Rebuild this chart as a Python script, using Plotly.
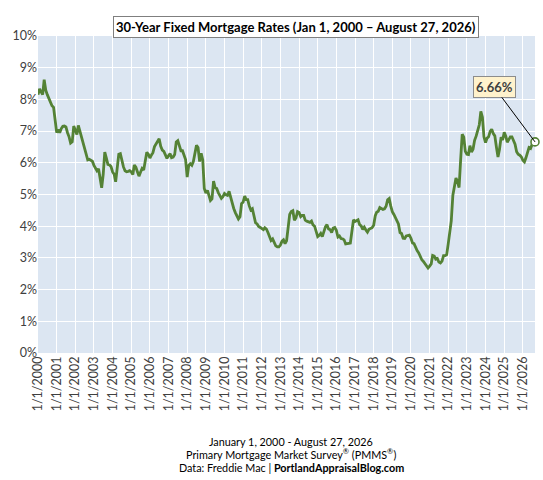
import pandas as pd
import plotly.graph_objects as go

# Freddie Mac PMMS 30-year fixed (roughly monthly)
rates = [
    8.15, 8.33, 8.24, 8.15, 8.62, 8.29, 8.15, 8.03, 7.91, 7.80, 7.75, 7.38,  # 2000
    6.95, 7.05, 6.95, 7.08, 7.15, 7.16, 7.13, 6.95, 6.82, 6.62, 6.66, 7.16,  # 2001
    7.00, 6.89, 7.18, 6.99, 6.81, 6.65, 6.49, 6.29, 6.09, 6.11, 6.07, 6.05,  # 2002
    5.92, 5.84, 5.75, 5.81, 5.48, 5.21, 5.63, 6.34, 6.15, 5.95, 5.93, 5.88,  # 2003
    5.71, 5.64, 5.40, 5.83, 6.27, 6.29, 6.06, 5.87, 5.75, 5.72, 5.73, 5.75,  # 2004
    5.71, 5.63, 5.93, 5.86, 5.72, 5.58, 5.70, 5.82, 5.77, 6.07, 6.33, 6.27,  # 2005
    6.15, 6.25, 6.32, 6.51, 6.60, 6.68, 6.76, 6.52, 6.40, 6.36, 6.24, 6.14,  # 2006
    6.22, 6.29, 6.16, 6.18, 6.26, 6.66, 6.70, 6.57, 6.38, 6.38, 6.21, 6.10,  # 2007
    5.55, 5.92, 5.97, 5.92, 6.04, 6.32, 6.55, 6.48, 6.04, 6.30, 6.09, 5.19,  # 2008
    5.05, 5.13, 5.00, 4.81, 4.86, 5.42, 5.22, 5.19, 5.06, 4.95, 4.88, 4.93,  # 2009
    5.03, 4.99, 4.97, 5.10, 4.89, 4.74, 4.56, 4.43, 4.35, 4.23, 4.30, 4.71,  # 2010
    4.76, 4.95, 4.84, 4.84, 4.64, 4.51, 4.55, 4.27, 4.11, 4.07, 3.99, 3.96,  # 2011
    3.92, 3.89, 3.95, 3.91, 3.80, 3.68, 3.55, 3.60, 3.50, 3.38, 3.35, 3.35,  # 2012
    3.41, 3.53, 3.57, 3.45, 3.54, 4.07, 4.37, 4.46, 4.49, 4.19, 4.26, 4.46,  # 2013
    4.43, 4.30, 4.34, 4.34, 4.19, 4.16, 4.13, 4.12, 4.16, 4.04, 4.00, 3.86,  # 2014
    3.67, 3.71, 3.77, 3.67, 3.84, 3.98, 4.05, 3.91, 3.89, 3.80, 3.94, 3.96,  # 2015
    3.87, 3.66, 3.69, 3.61, 3.60, 3.57, 3.44, 3.44, 3.46, 3.47, 3.77, 4.20,  # 2016
    4.15, 4.17, 4.20, 4.05, 4.01, 3.90, 3.97, 3.88, 3.81, 3.90, 3.92, 3.95,  # 2017
    4.03, 4.33, 4.44, 4.47, 4.59, 4.57, 4.53, 4.55, 4.63, 4.83, 4.87, 4.64,  # 2018
    4.46, 4.37, 4.27, 4.14, 4.07, 3.80, 3.77, 3.62, 3.61, 3.69, 3.70, 3.72,  # 2019
    3.62, 3.47, 3.45, 3.31, 3.23, 3.16, 3.02, 2.94, 2.89, 2.83, 2.77, 2.68,  # 2020
    2.74, 2.81, 3.08, 3.06, 2.96, 2.98, 2.87, 2.84, 2.90, 3.07, 3.07, 3.10,  # 2021
    3.45, 3.76, 4.17, 4.98, 5.23, 5.52, 5.41, 5.22, 6.11, 6.90, 6.81, 6.36,  # 2022
    6.27, 6.26, 6.54, 6.34, 6.43, 6.71, 6.84, 7.07, 7.20, 7.62, 7.44, 6.82,  # 2023
    6.64, 6.78, 6.82, 6.99, 7.06, 6.92, 6.85, 6.50, 6.18, 6.43, 6.81, 6.72,  # 2024
    6.96, 6.84, 6.65, 6.73, 6.82, 6.82, 6.72, 6.59, 6.35, 6.27, 6.24, 6.19,  # 2025
    6.08, 6.03, 6.15, 6.35, 6.48, 6.45, 6.58, 6.62,                          # 2026
    6.66,                                                                    # 8/27/2026
]
dates = list(pd.date_range("2000-01-01", "2026-08-01", freq="MS")) + [pd.Timestamp("2026-08-27")]

last_date = dates[-1]
last_rate = rates[-1]

tick_years = list(range(2000, 2027))
tick_vals = [pd.Timestamp(f"{y}-01-01") for y in tick_years]
tick_text = [f"1/1/{y}" for y in tick_years]

y_ticks = list(range(0, 11))

FONT = "Lato"
GREEN = "#548235"
GREY = "#404040"

fig = go.Figure()
fig.add_trace(go.Scatter(
    x=dates, y=rates, mode="lines",
    line=dict(color=GREEN, width=2.8),
    hoverinfo="skip", showlegend=False,
))
# open circle on the latest reading
fig.add_trace(go.Scatter(
    x=[last_date], y=[last_rate], mode="markers", cliponaxis=False,
    marker=dict(size=8, color="white", line=dict(color=GREEN, width=1.6)),
    showlegend=False,
))

fig.add_annotation(
    x=last_date, y=last_rate, text=f"<b>{last_rate:.2f}%</b>",
    showarrow=True, arrowhead=0, arrowwidth=1, arrowcolor="black",
    ax=-41, ay=-55, bgcolor="#fff2cc", bordercolor="#8c8c8c", borderwidth=1,
    borderpad=2, font=dict(family=FONT, size=13, color=GREY),
)

# boxed title
fig.add_annotation(
    xref="paper", yref="paper", x=0.52, y=1.063,
    text="<b>30-Year Fixed Mortgage Rates (Jan 1, 2000 – August 27, 2026)</b>",
    showarrow=False, bgcolor="white", bordercolor="#7f7f7f", borderwidth=1,
    borderpad=2, font=dict(family=FONT, size=13, color="black"),
)

footer = [
    "January 1, 2000 - August 27, 2026",
    "Primary Mortgage Market Survey<sup>®</sup> (PMMS<sup>®</sup>)",
    "Data: Freddie Mac | <b>PortlandAppraisalBlog.com</b>",
]
for i, line in enumerate(footer):
    fig.add_annotation(
        xref="paper", yref="paper", x=0.51, y=(353 - 441 - 13 * i) / 317,
        text=line, showarrow=False, yanchor="middle",
        font=dict(family=FONT, size=10.8, color="black"),
    )

fig.update_layout(
    width=543, height=480,
    margin=dict(l=38, r=8, t=36, b=127),
    paper_bgcolor="white", plot_bgcolor="#dce6f2",
    font=dict(family=FONT, size=12, color=GREY),
)
fig.update_xaxes(
    range=[dates[0], last_date], tickvals=tick_vals, ticktext=tick_text,
    tickangle=-90, showgrid=True, gridcolor="white", gridwidth=1,
    zeroline=False, showline=False, ticks="", tickfont=dict(size=12.5, color=GREY),
)
fig.update_yaxes(
    range=[0, 10], tickvals=y_ticks, ticktext=[f"{v}%" for v in y_ticks],
    showgrid=True, gridcolor="white", gridwidth=1, zeroline=False,
    showline=False, ticks="", tickfont=dict(size=12.5, color=GREY),
)

# drop the page's default body margin so the figure sits at the window corner
fig.write_html("out.html", config={"displayModeBar": False},
               post_script="document.body.style.margin='0';")
